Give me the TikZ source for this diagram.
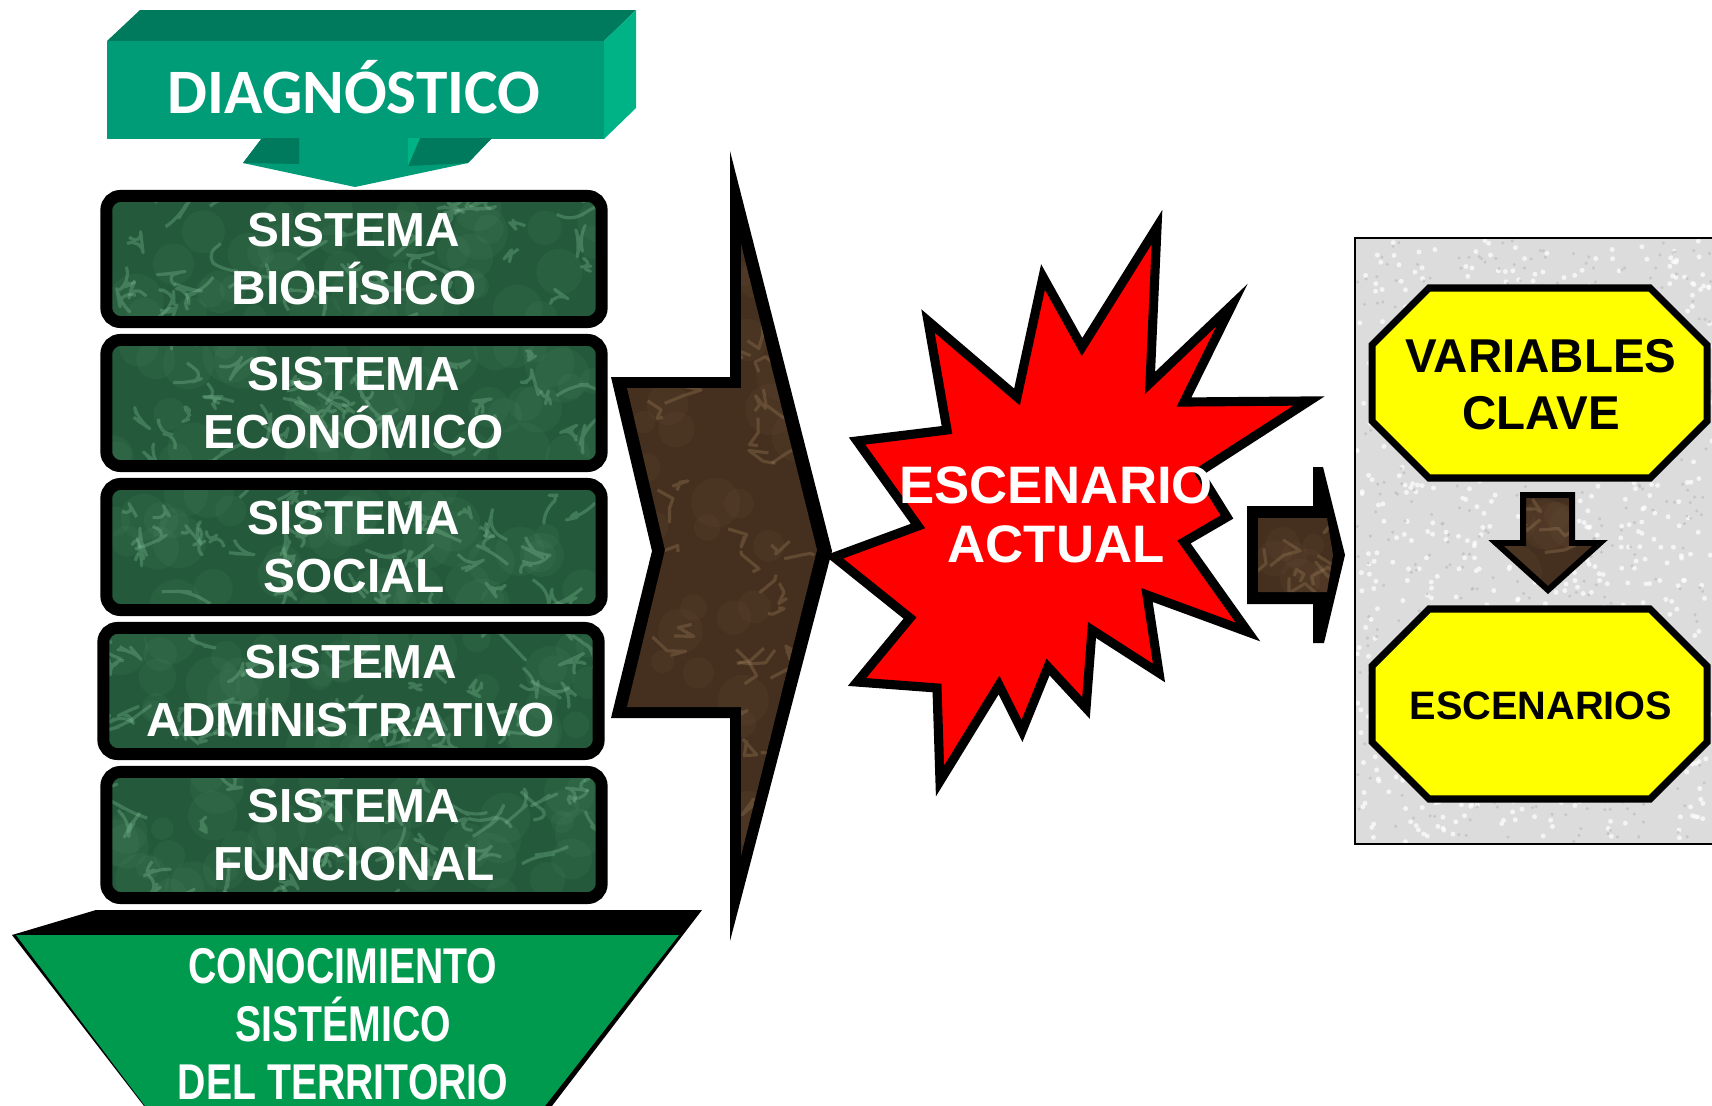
\documentclass[tikz,border=0pt]{standalone}
\usepackage{fontspec}
\setmainfont{Liberation Sans}
\newfontfamily\calibrifont{Carlito}
\newfontfamily\narrowfont{Liberation Sans}[FakeStretch=0.78]
\definecolor{diagfront}{HTML}{009B77}
\definecolor{diagtop}{HTML}{007A5C}
\definecolor{diagside}{HTML}{00B386}
\definecolor{marblegreen}{HTML}{245A3B}
\definecolor{veingreen}{HTML}{86C49C}
\definecolor{marblebrown}{HTML}{45301F}
\definecolor{veinbrown}{HTML}{A3835F}
\definecolor{basegreen}{HTML}{009A4E}
\definecolor{panelgrey}{HTML}{DCDCDC}
\definecolor{burstred}{HTML}{FF0000}
\definecolor{keyyellow}{HTML}{FFFF00}
\tikzset{
  veins/.style n args={4}{path picture={
      \foreach \k in {1,...,#1}{
        \fill[#2,opacity=.06] (path picture bounding box.center) ++({rand*#3},{rand*#4})
          circle[radius={3pt+5pt*rnd}];
        \draw[#2,opacity=.3,line width=.9pt,line join=round]
          (path picture bounding box.center) ++({rand*#3},{rand*#4})
          -- ++({rand*20},{rand*16}) -- ++({rand*20},{rand*16}) -- ++({rand*20},{rand*16});
      }
  }},
  sysbox/.style={draw=black,line width=3.4pt,rounded corners=0.14cm,fill=marblegreen,
    minimum width=4.95cm,minimum height=1.26cm,text=white,align=center,inner sep=0pt,
    font=\bfseries\fontsize{13.6}{16.4}\selectfont,veins={40}{veingreen}{245}{62}},
  outline/.style={fill=black},
  brownfill/.style={fill=marblebrown},
  keyocta/.style={draw=black,line width=2pt,fill=keyyellow,line join=miter},
  burst/.style={draw=black,line width=2.6pt,fill=burstred,line join=miter},
  whitetext/.style={text=white,align=center,inner sep=0pt},
  blacktext/.style={text=black,align=center,inner sep=0pt}
}
\begin{document}
\begin{tikzpicture}[x=0.01cm,y=-0.01cm]
\useasboundingbox (0,0) rectangle (1712,1106);
\clip (0,0) rectangle (1712,1106);
\pgfmathsetseed{12}
% diagnostico
\fill[diagtop] (107,41) -- (140,10) -- (636,10) -- (604,41) -- cycle;
\fill[diagside] (604,41) -- (636,10) -- (636,108) -- (604,139) -- cycle;
\fill[diagfront] (107,41) rectangle (604,139);
\fill[diagfront] (262,138) -- (243,163) -- (355,187) -- (468,163) -- (492,138) -- cycle;
\fill[diagtop] (262,138) -- (299,138) -- (299,164) -- (243,163) -- cycle;
\fill[diagtop] (420,138) -- (492,138) -- (468,163) -- (408,166) -- cycle;
\fill[diagside] (408,138) -- (420,138) -- (408,166) -- cycle;
\node(diag)[whitetext,font=\calibrifont\bfseries\fontsize{18}{20}\selectfont] at (354,87){DIAGNÓSTICO};
% sistemas
\node(bio)[sysbox] at (354,259){SISTEMA\\BIOFÍSICO};
\node(eco)[sysbox] at (354,403){SISTEMA\\ECONÓMICO};
\node(soc)[sysbox] at (354,547){SISTEMA\\SOCIAL};
\node(adm)[sysbox] at (351,691){SISTEMA\\ADMINISTRATIVO};
\node(fun)[sysbox] at (354,835){SISTEMA\\FUNCIONAL};
% base
\fill[outline] (12,935) -- (96,910) -- (702,910) -- (552,1106) -- (144,1106) -- cycle;
\fill[basegreen] (16,935) -- (679,935) -- (545,1106) -- (145,1106) -- cycle;
\node(conoc)[whitetext,font=\narrowfont\bfseries\fontsize{14.3}{16.5}\selectfont] at (343,1024){CONOCIMIENTO\\SISTÉMICO\\DEL TERRITORIO};
% flecha grande
\fill[outline] (730,151) -- (832,551) -- (730,941) -- (730,718) -- (611,718) -- (652,551) -- (611,377) -- (730,377) -- cycle;
\fill[brownfill,veins={45}{veinbrown}{95}{300}] (741,244) -- (817,550) -- (741,856) -- (741,707) -- (627,707) -- (665,550) -- (627,388) -- (741,388) -- cycle;
% escenario actual
\draw[burst] (834,557) -- (918,526) -- (857,441) -- (947,430) -- (928,321) -- (1017,397)
  -- (1043,277) -- (1082,347) -- (1157,227) -- (1150,383) -- (1232,305) -- (1184,402)
  -- (1309,401) -- (1199,472) -- (1227,517) -- (1184,542) -- (1248,632) -- (1147,595)
  -- (1159,673) -- (1092,630) -- (1086,708) -- (1048,667) -- (1022,731) -- (999,685)
  -- (940,781) -- (937,688) -- (857,682) -- (910,618) -- cycle;
\node(actual)[whitetext,font=\bfseries\fontsize{15}{16.6}\selectfont] at (1056,515){ESCENARIO\\ACTUAL};
% flecha chica
\fill[outline] (1247,506) -- (1313,506) -- (1313,467) -- (1323,467) -- (1345,555) -- (1324,643) -- (1313,643) -- (1313,604) -- (1247,604) -- cycle;
\fill[brownfill,veins={8}{veinbrown}{35}{35}] (1258,518) -- (1327,518) -- (1333,555) -- (1327,592) -- (1258,592) -- cycle;
% panel
\fill[panelgrey] (1355,238) rectangle (1720,844);
\foreach \k in {1,...,700}
  \fill[white,opacity=.7] ({1357+rnd*355},{240+rnd*602}) circle (0.7pt);
\foreach \k in {1,...,500}
  \fill[gray!55,opacity=.6] ({1357+rnd*355},{240+rnd*602}) circle (0.5pt);
\draw[line width=0.6pt] (1355,238) rectangle (1720,844);
\draw[keyocta] (1429,288) -- (1650,288) -- (1707,345) -- (1707,421) -- (1650,478) -- (1429,478) -- (1372,421) -- (1372,345) -- cycle;
\node(vars)[blacktext,font=\bfseries\fontsize{13.5}{16.2}\selectfont] at (1541,385){VARIABLES\\CLAVE};
\draw[keyocta] (1429,609) -- (1650,609) -- (1707,666) -- (1707,742) -- (1650,799) -- (1429,799) -- (1372,742) -- (1372,666) -- cycle;
\node(escs)[blacktext,font=\bfseries\fontsize{11.3}{13}\selectfont] at (1541,706){ESCENARIOS};
\draw[brownfill,draw=black,line width=1.7pt,veins={6}{veinbrown}{40}{35}] (1523,495) -- (1572,495) -- (1572,543) -- (1600,543) -- (1548,590) -- (1496,543) -- (1523,543) -- cycle;
\end{tikzpicture}
\end{document}
